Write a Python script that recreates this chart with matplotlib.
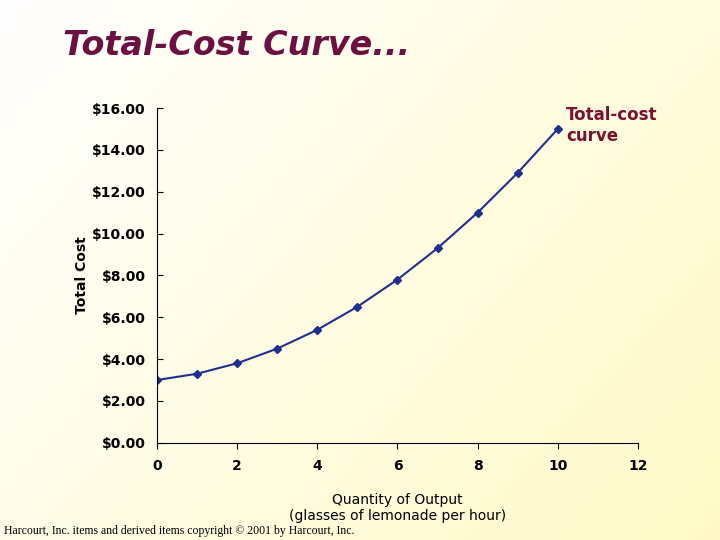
import matplotlib
matplotlib.use("Agg")
import matplotlib.pyplot as plt
import numpy as np

quantity = [0, 1, 2, 3, 4, 5, 6, 7, 8, 9, 10]
total_cost = [3.00, 3.30, 3.80, 4.50, 5.40, 6.50, 7.80, 9.30, 11.00, 12.90, 15.00]
yticks = [0, 2, 4, 6, 8, 10, 12, 14, 16]
xticks = [0, 2, 4, 6, 8, 10, 12]

fig = plt.figure(figsize=(7.2, 5.4), dpi=100)
bg = fig.add_axes([0, 0, 1, 1], zorder=-10)
gx = np.linspace(0, 1, 256)
gy = np.linspace(0, 1, 256)
X, Y = np.meshgrid(gx, gy)
t = np.clip(0.6 * X + 0.4 * (1 - Y), 0, 1)
c0 = np.array([1.0, 1.0, 1.0]); c1 = np.array([1.0, 0.98, 0.78])
img = c0 + (c1 - c0) * t[..., None]
bg.imshow(img, extent=[0, 1, 0, 1], aspect='auto', origin='lower')
bg.axis('off')

ax = fig.add_axes([0.218, 0.180, 0.668, 0.620])
ax.patch.set_alpha(0)
ax.plot(quantity, total_cost, color='#1f2f8f', marker='D', markersize=4, linewidth=1.5)
ax.set_xlim(0, 12); ax.set_ylim(0, 16)
ax.set_xticks(xticks); ax.set_yticks(yticks)
ax.set_yticklabels([f"${v:.2f}" for v in yticks], fontweight='bold', fontsize=10)
ax.set_xticklabels([str(v) for v in xticks], fontweight='bold', fontsize=10)
for s in ['top', 'right']:
    ax.spines[s].set_visible(False)
ax.tick_params(axis='y', direction='in', length=4, pad=8)
ax.tick_params(axis='x', direction='out', length=4, pad=8)
ax.set_ylabel("Total Cost", fontweight='bold', fontsize=10, labelpad=2)
ax.set_xlabel("Quantity of Output\n(glasses of lemonade per hour)", fontsize=10, labelpad=14)
ax.text(10.2, 16.1, "Total-cost\ncurve", color='#7a1030', fontweight='bold', fontsize=12, va='top')

fig.text(0.088, 0.915, "Total-Cost Curve...", color='#6b1040', fontsize=24,
         fontweight='bold', style='italic', va='center')
fig.text(0.005, 0.012, "Harcourt, Inc. items and derived items copyright \u00a9 2001 by Harcourt, Inc.",
         family='Liberation Serif', fontsize=8.5)
fig.savefig("out.png", dpi=100)
